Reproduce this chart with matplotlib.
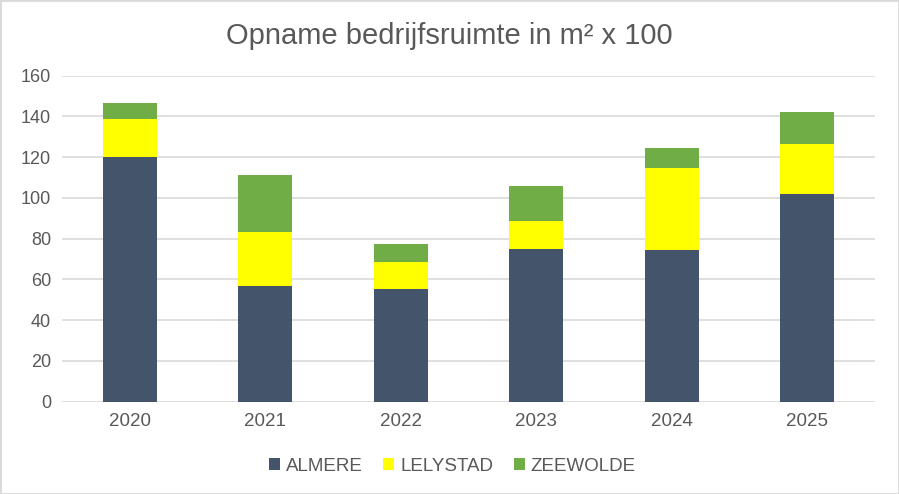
import matplotlib.pyplot as plt
import numpy as np
from matplotlib.patches import Rectangle

plt.rcParams['font.family'] = ['Liberation Sans', 'DejaVu Sans']

# Data
years = ['2020', '2021', '2022', '2023', '2024', '2025']
almere = [120, 57, 55.3, 75, 74.5, 102]
lelystad = [18.6, 26.5, 13.3, 13.8, 40.2, 24.6]
zeewolde = [7.9, 28, 8.8, 17.2, 9.8, 15.7]

colors = ['#44546A', '#FFFF00', '#70AD47']
labels = ['ALMERE', 'LELYSTAD', 'ZEEWOLDE']
txt = '#595959'

fig = plt.figure(figsize=(8.99, 4.94), dpi=100)
ax = fig.add_axes([62/899, 1 - 401.7/494, 813/899, 326/494])

x = np.arange(len(years))
bottom = np.zeros(len(years))
for vals, c, lab in zip([almere, lelystad, zeewolde], colors, labels):
    ax.bar(x, vals, width=0.4, bottom=bottom, color=c, label=lab, zorder=3)
    bottom += np.array(vals)

ax.set_xlim(-0.5, len(years) - 0.5)
ax.set_ylim(0, 160)
ax.set_yticks(range(0, 161, 20))
ax.set_xticks(x)
ax.set_xticklabels(years)
ax.grid(axis='y', color='#D9D9D9', linewidth=1.2, zorder=0)
for s in ax.spines.values():
    s.set_visible(False)
ax.tick_params(axis='y', length=0, labelsize=13, colors=txt, pad=8)
ax.tick_params(axis='x', length=0, labelsize=13.5, colors=txt, pad=8)

fig.suptitle('Opname bedrijfsruimte in m² x 100', fontsize=21, color=txt, y=0.955)

leg = ax.legend(loc='upper center', bbox_to_anchor=(0.48, -0.12), ncol=3, frameon=False,
                fontsize=13.5, handlelength=0.6, handleheight=0.6, handletextpad=0.3,
                columnspacing=1.1)
for t in leg.get_texts():
    t.set_color(txt)

fig.patches.append(Rectangle((0, 0), 1, 1, transform=fig.transFigure, fill=False,
                             edgecolor='#D9D9D9', linewidth=2))

fig.savefig('out.png', dpi=100)
